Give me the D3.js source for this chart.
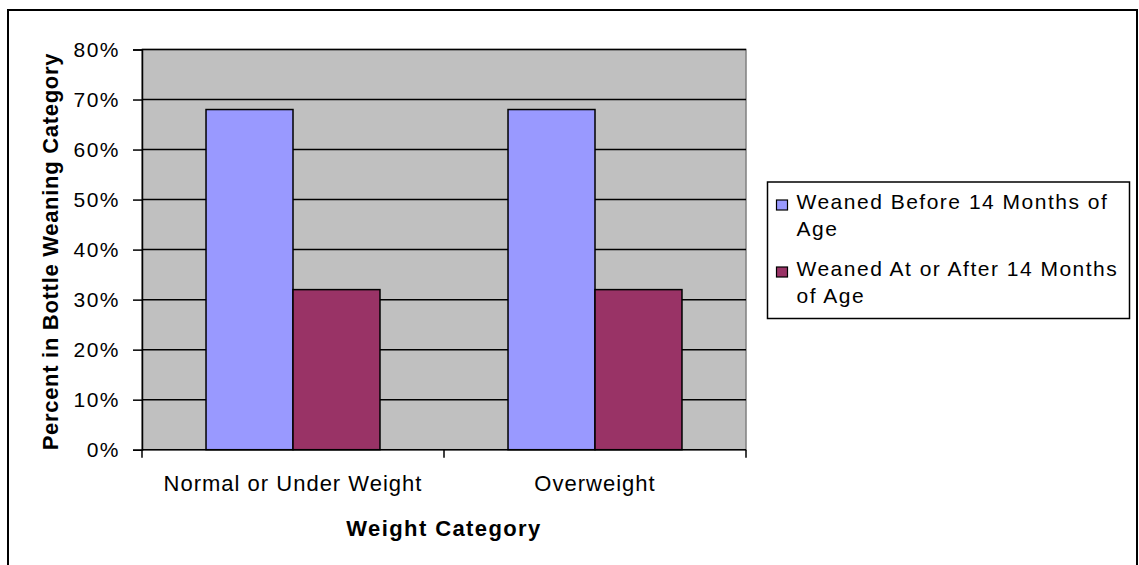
<!DOCTYPE html>
<html>
<head>
<meta charset="utf-8">
<script src="https://cdn.jsdelivr.net/npm/d3@7"></script>
<style>
  body { margin: 0; background: #fff; }
  text { font-family: "Liberation Sans", Arial, sans-serif; fill: #000; }
</style>
</head>
<body>
<div id="chart"></div>
<script>
'use strict'

// data
const categories = ["Normal or Under Weight", "Overweight"]
const seriesNames = ["Weaned Before 14 Months of Age", "Weaned At or After 14 Months of Age"]
const seriesColors = ["#9999FF", "#993366"]
const before14 = [0.68, 0.68]
const after14 = [0.32, 0.32]
const yTicks = [0, 0.1, 0.2, 0.3, 0.4, 0.5, 0.6, 0.7, 0.8]
const legendLines = [["Weaned Before 14 Months of", "Age"], ["Weaned At or After 14 Months", "of Age"]]

const svgWidth = 1139, svgHeight = 565
const plot = { left: 142, right: 746, top: 49.5, bottom: 449.7 }

const svg = d3.select('#chart')
    .append('svg')
    .attr('width', svgWidth)
    .attr('height', svgHeight)

// outer frame
svg.append('rect')
    .attr('x', 8).attr('y', 10)
    .attr('width', 1129).attr('height', 570)
    .attr('fill', '#fff')
    .attr('stroke', '#000')
    .attr('stroke-width', 2)

////////// scales //////////
const y = d3.scaleLinear().domain([0, 0.8]).range([plot.bottom, plot.top])

const x0 = d3.scaleBand()
    .domain(categories)
    .range([plot.left, plot.right])
    .padding(0)

const x1 = d3.scaleBand()
    .domain(seriesNames)
    .range([0, x0.bandwidth()])
    .paddingInner(0)
    .paddingOuter(0.736)

const color = d3.scaleOrdinal().domain(seriesNames).range(seriesColors)

// plot background
svg.append('rect')
    .attr('x', plot.left).attr('y', plot.top)
    .attr('width', plot.right - plot.left)
    .attr('height', plot.bottom - plot.top)
    .attr('fill', '#C0C0C0')
    .attr('stroke', '#808080')
    .attr('stroke-width', 1.5)

// gridlines
svg.append('g')
    .selectAll('line')
    .data(yTicks.filter(d => d > 0))
    .join('line')
    .attr('x1', plot.left).attr('x2', plot.right)
    .attr('y1', d => y(d)).attr('y2', d => y(d))
    .attr('stroke', '#000')
    .attr('stroke-width', 1.5)

// bars
const rows = categories.map((c, i) => ({ cat: c, values: [before14[i], after14[i]] }))

svg.append('g')
    .selectAll('g')
    .data(rows)
    .join('g')
    .attr('transform', d => `translate(${x0(d.cat)},0)`)
    .selectAll('rect')
    .data(d => d.values.map((v, j) => ({ name: seriesNames[j], value: v })))
    .join('rect')
    .attr('x', d => x1(d.name))
    .attr('width', x1.bandwidth())
    .attr('y', d => y(d.value))
    .attr('height', d => y(0) - y(d.value))
    .attr('fill', d => color(d.name))
    .attr('stroke', '#000')
    .attr('stroke-width', 1.5)

// y axis
const yAxis = svg.append('g')
    .attr('transform', `translate(${plot.left},0)`)
    .call(d3.axisLeft(y).tickValues(yTicks).tickFormat(d3.format('.0%')).tickSize(9).tickPadding(13))
yAxis.select('.domain').attr('stroke', '#000').attr('stroke-width', 1.5)
yAxis.selectAll('.tick line').attr('stroke', '#000').attr('stroke-width', 1.5)
yAxis.selectAll('.tick text')
    .attr('font-size', 21)
    .style('letter-spacing', '1.5px')
    .attr('font-family', '"Liberation Sans", Arial, sans-serif')

// x axis: ticks at band boundaries
const xAxisG = svg.append('g')
    .attr('transform', `translate(0,${plot.bottom})`)
xAxisG.append('line')
    .attr('x1', plot.left).attr('x2', plot.right)
    .attr('stroke', '#000').attr('stroke-width', 1.5)
xAxisG.selectAll('.bt')
    .data([plot.left, x0(categories[1]), plot.right])
    .join('line')
    .attr('class', 'bt')
    .attr('x1', d => d).attr('x2', d => d)
    .attr('y1', 0).attr('y2', 8)
    .attr('stroke', '#000').attr('stroke-width', 1.5)
xAxisG.selectAll('text')
    .data(categories)
    .join('text')
    .attr('x', d => x0(d) + x0.bandwidth() / 2)
    .attr('y', 41.5)
    .attr('text-anchor', 'middle')
    .attr('font-size', 22)
    .style('letter-spacing', '1px')
    .text(d => d)

// axis titles
svg.append('text')
    .attr('x', (plot.left + plot.right) / 2)
    .attr('y', 536)
    .attr('text-anchor', 'middle')
    .attr('font-size', 22)
    .attr('font-weight', 'bold')
    .style('letter-spacing', '1.4px')
    .text('Weight Category')

svg.append('text')
    .attr('transform', `translate(57.5,${(plot.top + plot.bottom) / 2 + 2}) rotate(-90)`)
    .attr('text-anchor', 'middle')
    .attr('font-size', 22)
    .attr('font-weight', 'bold')
    .style('letter-spacing', '0.7px')
    .text('Percent in Bottle Weaning Category')

// legend
const legend = svg.append('g')
legend.append('rect')
    .attr('x', 767.5).attr('y', 182)
    .attr('width', 362).attr('height', 136.5)
    .attr('fill', '#fff')
    .attr('stroke', '#000')
    .attr('stroke-width', 1.5)

const items = legend.selectAll('g.item')
    .data(seriesNames)
    .join('g')
    .attr('class', 'item')
    .attr('transform', (d, i) => `translate(0,${i * 67})`)

items.append('rect')
    .attr('x', 776.5).attr('y', 200)
    .attr('width', 11).attr('height', 10)
    .attr('fill', d => color(d))
    .attr('stroke', '#000')
    .attr('stroke-width', 1.2)

items.append('text')
    .attr('font-size', 21)
    .style('letter-spacing', '1.5px')
    .selectAll('tspan')
    .data((d, i) => legendLines[i])
    .join('tspan')
    .attr('x', 796.5)
    .attr('y', (d, k) => 209 + k * 27)
    .text(d => d)
</script>
</body>
</html>
